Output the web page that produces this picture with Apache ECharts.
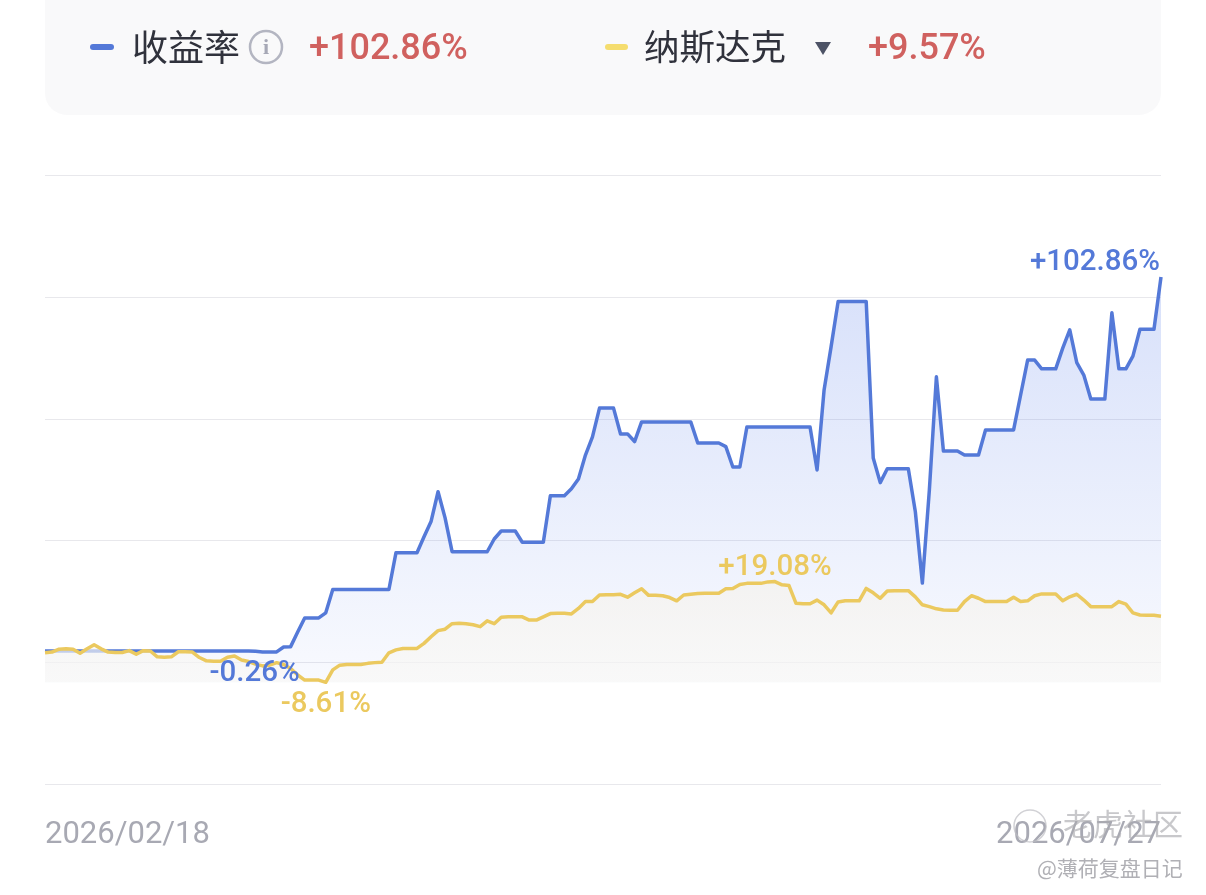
<!DOCTYPE html>
<html><head><meta charset="utf-8">
<style>html,body{margin:0;padding:0;background:#fff}#c{width:1206px;height:895px}</style>
<script src="https://cdn.jsdelivr.net/npm/echarts@6/dist/echarts.min.js"></script>
</head><body><div id="c"></div>
<script>
const returnRate = [
0,0,0,0,0,0,0,0,0,0,
0,0,0,0,0,0,0,0,0,0,
0,0,0,0,0,0,0,0,0,0,
-0.1,-0.26,-0.26,-0.26,1.1,1.2,5.2,9.1,9.1,9.1,
10.5,16.9,16.9,16.9,16.9,16.9,16.9,16.9,16.9,16.9,
27,27,27,27,31.4,35.6,43.8,36.6,27.3,27.3,
27.3,27.3,27.3,27.3,30.8,33,33,33,29.9,29.9,
29.9,29.9,42.7,42.7,42.7,44.6,47.3,53.9,58.9,66.8,
66.8,66.8,59.7,59.7,57.6,63,63,63,63,63,
63,63,63,57.2,57.2,57.2,57.2,56.2,50.6,50.6,
61.6,61.6,61.6,61.6,61.6,61.6,61.6,61.6,61.6,61.6,
49.8,71.8,83.7,96.1,96.1,96.1,96.1,96.1,53.1,46.3,
50.1,50.1,50.1,50.1,38.3,18.7,44.3,75.4,55,55,
55,53.9,53.9,53.9,60.8,60.8,60.8,60.8,60.8,70.4,
80,80,77.6,77.6,77.6,83.3,88.3,79.3,75.9,69.3,
69.3,69.3,93,77.6,77.6,81.1,88.5,88.5,88.5,102.86];
const nasdaq = [
-0.5,-0.3,0.5,0.6,0.5,-0.6,0.6,1.7,0.6,-0.3,
-0.4,-0.4,0.1,-0.9,0.1,0,-1.6,-1.7,-1.6,-0.2,
-0.2,-0.3,-1.8,-2.7,-2.8,-2.8,-1.7,-1.4,-2.5,-2.9,
-3.6,-4.1,-3.9,-3.2,-3.7,-4.8,-6.6,-8,-8,-8,
-8.61,-5.2,-3.9,-3.7,-3.7,-3.7,-3.4,-3.2,-3.1,-0.5,
0.3,0.7,0.7,0.7,2.1,3.9,5.6,6,7.5,7.6,
7.5,7.2,6.7,8.3,7.5,9.3,9.4,9.4,9.4,8.5,
8.5,9.4,10.3,10.4,10.4,10.2,11.7,13.6,13.6,15.4,
15.5,15.5,15.6,14.8,16,17.1,15.3,15.3,15.2,14.7,
13.8,15.4,15.6,15.8,15.9,15.9,15.9,17.1,17.2,18.3,
18.6,18.6,18.6,19,19.08,18.2,18,13.1,13,13,
14,12.7,10.5,13.5,13.8,13.8,13.8,17.2,16,14.5,
16.5,16.6,16.6,16.6,14.9,12.7,12.2,11.6,11.3,11.2,
11.2,13.6,15.2,14.5,13.6,13.6,13.6,13.6,14.8,13.6,
13.8,15.2,15.7,15.7,15.7,13.8,14.9,15.6,14,12.2,
12.2,12.2,12.2,13.6,12.9,10.5,9.9,9.8,9.8,9.57];
const dates = returnRate.map((_, i) => {
  const d = new Date(Date.UTC(2026, 1, 18 + i));
  return d.getUTCFullYear() + '/' + String(d.getUTCMonth() + 1).padStart(2, '0') + '/' + String(d.getUTCDate()).padStart(2, '0');
});
const blueLabels = [[31, -0.26, '-0.26%', [-8, 22]], [159, 102.86, '+102.86%', [-66, -14]]];
const yellowLabels = [[40, -8.61, '-8.61%', [0, 22]], [104, 19.08, '+19.08%', [0, -14]]];

const FONT = 'Roboto, "Noto Sans CJK SC", sans-serif';
const CJK = '"Noto Sans CJK SC", sans-serif';
const BLUE = '#5479d8', YELLOW = '#ebc95f', RED = '#d0615f';

const mp = (list, color) => ({
  symbol: 'circle', symbolSize: 0, silent: true, animation: false,
  data: list.map(l => ({
    coord: [l[0], l[1]],
    label: { show: true, position: 'inside', formatter: l[2], offset: l[3], color, fontFamily: FONT, fontSize: 29.5, fontWeight: 500 }
  }))
});
const txt = (x, y, text, font, size, fill, extra) => ({
  type: 'text', x, y, z: 10,
  style: Object.assign({ text, fontFamily: font, fontSize: size, fill, textVerticalAlign: 'middle', verticalAlign: 'middle' }, extra || {})
});

const chart = echarts.init(document.getElementById('c'), null, { renderer: 'canvas' });
chart.setOption({
  animation: false,
  backgroundColor: '#fff',
  grid: { left: 45, top: 175.5, width: 1116, height: 608.5, containLabel: false },
  xAxis: {
    type: 'category', data: dates, boundaryGap: false,
    axisLine: { show: false }, axisTick: { show: false }, splitLine: { show: false },
    axisLabel: {
      interval: (i) => i === 0 || i === dates.length - 1,
      alignMinLabel: 'left', alignMaxLabel: 'right',
      showMinLabel: true, showMaxLabel: true,
      margin: 36, color: '#a8a9b3', fontFamily: FONT, fontSize: 31
    }
  },
  yAxis: [
    { type: 'value', min: -36.58, max: 130.77, show: false, splitLine: { show: false } },
    { type: 'value', min: 0, max: 5, interval: 1, position: 'right',
      axisLine: { show: false }, axisTick: { show: false }, axisLabel: { show: false },
      splitLine: { show: true, lineStyle: { color: '#e8e8ec', width: 1 } } }
  ],
  series: [
    {
      name: '收益率', type: 'line', data: returnRate, yAxisIndex: 0, symbol: 'none', z: 3,
      lineStyle: { color: BLUE, width: 3.5, join: 'round' }, itemStyle: { color: BLUE },
      areaStyle: { origin: -8.61, color: { type: 'linear', x: 0, y: 0, x2: 0, y2: 1, colorStops: [
        { offset: 0, color: 'rgba(90,127,235,0.34)' }, { offset: 1, color: 'rgba(90,127,235,0.06)' } ] } },
      markPoint: mp(blueLabels, BLUE)
    },
    {
      name: '纳斯达克', type: 'line', data: nasdaq, yAxisIndex: 0, symbol: 'none', z: 4,
      lineStyle: { color: YELLOW, width: 3.5, join: 'round' }, itemStyle: { color: YELLOW },
      areaStyle: { origin: -8.61, color: { type: 'linear', x: 0, y: 0, x2: 0, y2: 1, colorStops: [
        { offset: 0, color: 'rgba(245,242,236,0.97)' }, { offset: 1, color: 'rgba(249,248,246,0.95)' } ] } },
      markPoint: mp(yellowLabels, YELLOW)
    }
  ],
  graphic: [
    { type: 'rect', z: 1, shape: { x: 45, y: -40, width: 1116, height: 155, r: 22 }, style: { fill: '#f9f9fa' } },
    { type: 'rect', z: 10, shape: { x: 90, y: 44, width: 24, height: 6, r: 3 }, style: { fill: BLUE } },
    txt(132, 47, '收益率', CJK, 36, '#30323c'),
    { type: 'circle', z: 10, shape: { cx: 266, cy: 47, r: 16 }, style: { fill: 'none', stroke: '#b3b5c1', lineWidth: 2.5 } },
    txt(266, 48, 'i', '"Liberation Serif", serif', 22, '#a6a8b6', { textAlign: 'center', align: 'center', fontWeight: 'bold' }),
    txt(309, 50, '+102.86%', FONT, 36, RED, { fontWeight: 500 }),
    { type: 'rect', z: 10, shape: { x: 605, y: 44, width: 23, height: 6, r: 3 }, style: { fill: '#f5dd6e' } },
    txt(644, 47, '纳斯达克', CJK, 35.5, '#30323c'),
    { type: 'polygon', z: 10, shape: { points: [[815, 42], [831, 42], [823, 55]] }, style: { fill: '#4d5366' } },
    txt(868, 50, '+9.57%', FONT, 36, RED, { fontWeight: 500 }),
    { type: 'circle', z: 12, shape: { cx: 1030, cy: 826, r: 16 }, style: { fill: 'none', stroke: 'rgba(190,190,195,0.7)', lineWidth: 1.5 } },
    txt(1063, 824, '老虎社区', CJK, 30, 'rgba(170,170,175,0.65)'),
    txt(1037, 868, '@薄荷复盘日记', CJK, 21, '#b0b0b5')
  ]
});
</script></body></html>
